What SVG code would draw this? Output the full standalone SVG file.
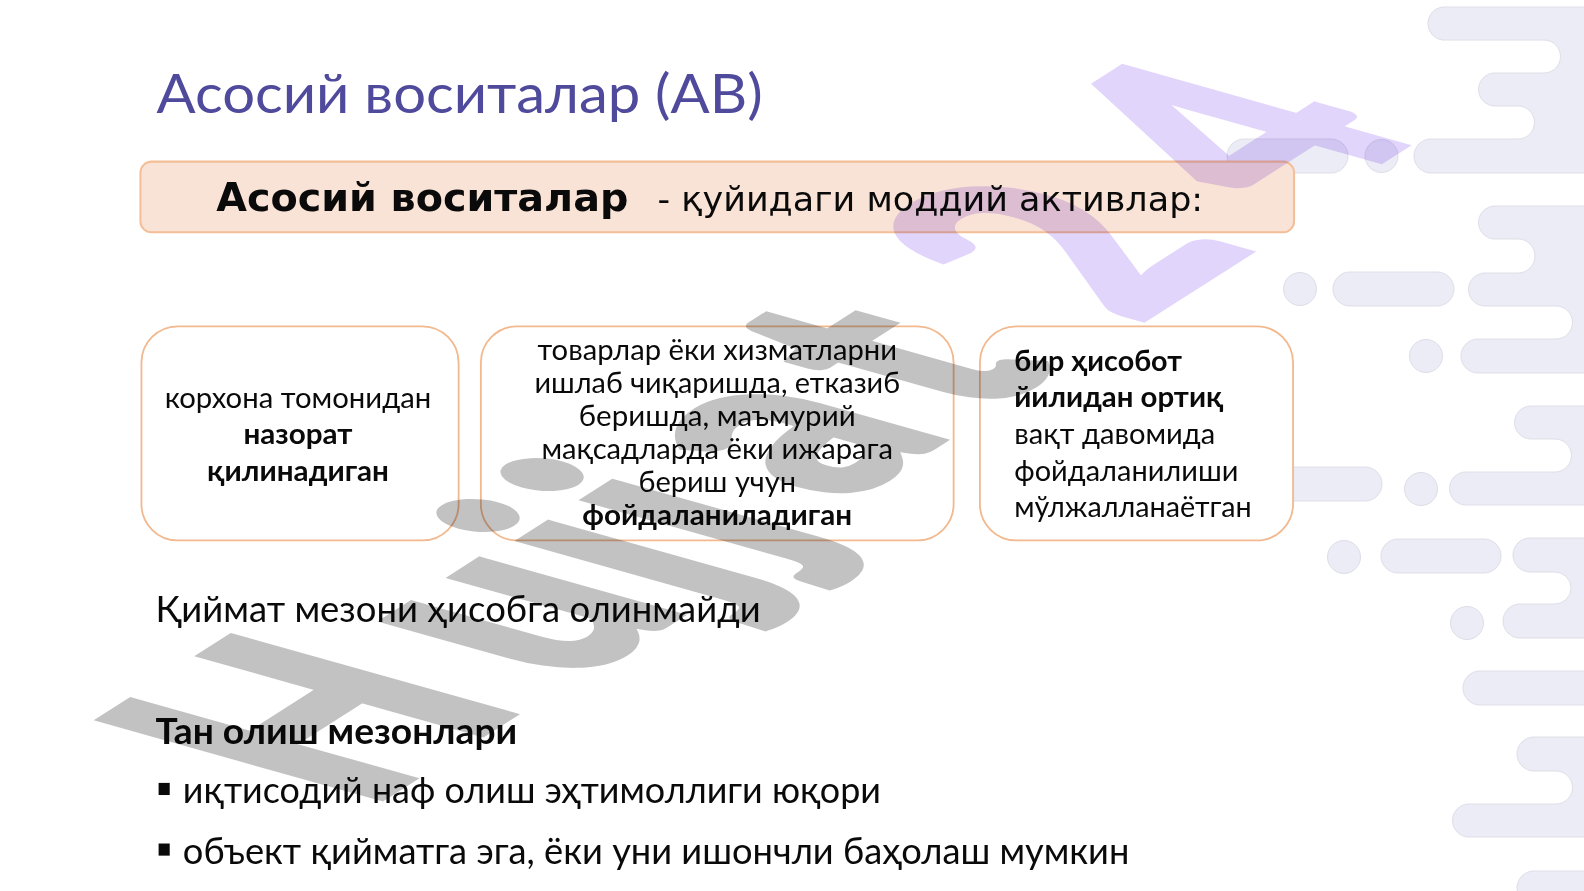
<svg xmlns="http://www.w3.org/2000/svg" width="1584" height="891" viewBox="0 0 1584 891">
<style>
.deco{fill:#ECECF6;stroke:#DEDEE8;stroke-width:1}
.t{font-family:"Lato","Open Sans","Noto Sans",sans-serif;fill:#0a0a0a}
.c{text-anchor:middle}
.b{font-weight:700}
.s28{font-size:28px}
.s36{font-size:36px}
.bar{font-family:"DejaVu Sans",sans-serif;fill:#0a0a0a}
.box{fill:#fff;stroke:#F2B98F;stroke-width:1.8}
.wm{font-family:"Lato","Open Sans",sans-serif;font-weight:900;font-size:100px;mix-blend-mode:multiply;stroke-width:2;stroke-linejoin:miter}
</style>
<rect width="1584" height="891" fill="#fff"/>
<g id="decoration">
<path class="deco" d="M1585 7H1442A16.7 16.7 0 0 0 1442 40H1544A16.5 16.5 0 0 1 1544 73H1495A16.5 16.5 0 0 0 1495 106H1518A16.5 16.5 0 0 1 1518 139H1431A17 17 0 0 0 1431 173H1585Z"/>
<path class="deco" d="M1585 206H1495A16.5 16.5 0 0 0 1495 239H1518A17 17 0 0 1 1518 273H1485A16.5 16.5 0 0 0 1485 306H1556A16.5 16.5 0 0 1 1556 339H1478A17 17 0 0 0 1478 373H1585Z"/>
<path class="deco" d="M1585 406H1531A16.5 16.5 0 0 0 1531 439H1555A16.5 16.5 0 0 1 1555 472H1466A16.5 16.5 0 0 0 1466 505H1585Z"/>
<path class="deco" d="M1585 538H1530A17 17 0 0 0 1530 572H1555A16 16 0 0 1 1555 604H1520A17 17 0 0 0 1520 638H1585Z"/>
<path class="deco" d="M1585 671H1480A17 17 0 0 0 1480 705H1585Z"/>
<path class="deco" d="M1585 737H1534A17 17 0 0 0 1534 771H1556A16.5 16.5 0 0 1 1556 804H1469A16.5 16.5 0 0 0 1469 837H1585Z"/>
<path class="deco" d="M1585 871H1534A17 17 0 0 0 1534 905H1585Z"/>
<rect class="deco" x="1227" y="139" width="121" height="34" rx="17"/>
<circle class="deco" cx="1381.5" cy="156" r="16.5"/>
<circle class="deco" cx="1300" cy="289" r="16.5"/>
<rect class="deco" x="1333" y="272" width="121" height="34" rx="17"/>
<circle class="deco" cx="1426" cy="356" r="16.5"/>
<rect class="deco" x="1262" y="467" width="120" height="34" rx="17"/>
<circle class="deco" cx="1421" cy="489" r="16.5"/>
<circle class="deco" cx="1344" cy="557" r="16.5"/>
<rect class="deco" x="1381" y="539" width="120" height="34" rx="17"/>
<circle class="deco" cx="1467" cy="623" r="16.5"/>
</g>
<g transform="scale(1.0102)">
<g id="title"><text class="t" x="155" y="112" font-size="54" textLength="600" lengthAdjust="spacingAndGlyphs" style="fill:#4F4A9C">Асосий воситалар (АВ)</text></g>
<g id="definition-bar">
<rect x="139" y="160" width="1142" height="70" rx="11" fill="#F9E3D6" stroke="#F4BE98" stroke-width="2"/>
<text class="bar b" x="214" y="209" font-size="38" textLength="408" lengthAdjust="spacingAndGlyphs">Асосий воситалар</text>
<text class="bar" x="651" y="209" font-size="33" textLength="540" lengthAdjust="spacingAndGlyphs">- қуйидаги моддий активлар:</text>
</g>
<g id="box-controlled">
<rect class="box" x="140" y="323" width="314" height="212" rx="36"/>
<text class="t s28 c" x="295" y="404" textLength="264" lengthAdjust="spacingAndGlyphs">корхона томонидан</text>
<text class="t s28 c b" x="295" y="440" textLength="108" lengthAdjust="spacingAndGlyphs">назорат</text>
<text class="t s28 c b" x="295" y="476" textLength="180" lengthAdjust="spacingAndGlyphs">қилинадиган</text>
</g>
<g id="box-use">
<rect class="box" x="476" y="323" width="468" height="212" rx="36"/>
<text class="t s28 c" x="710" y="356" textLength="356" lengthAdjust="spacingAndGlyphs">товарлар ёки хизматларни</text>
<text class="t s28 c" x="710" y="389" textLength="362" lengthAdjust="spacingAndGlyphs">ишлаб чиқаришда, етказиб</text>
<text class="t s28 c" x="710" y="422" textLength="274" lengthAdjust="spacingAndGlyphs">беришда, маъмурий</text>
<text class="t s28 c" x="710" y="454" textLength="348" lengthAdjust="spacingAndGlyphs">мақсадларда ёки ижарага</text>
<text class="t s28 c" x="710" y="487" textLength="156" lengthAdjust="spacingAndGlyphs">бериш учун</text>
<text class="t s28 c b" x="710" y="520" textLength="267" lengthAdjust="spacingAndGlyphs">фойдаланиладиган</text>
</g>
<g id="box-period">
<rect class="box" x="970" y="323" width="310" height="212" rx="36"/>
<text class="t s28 b" x="1004" y="367" textLength="166" lengthAdjust="spacingAndGlyphs">бир ҳисобот</text>
<text class="t s28 b" x="1004" y="403" textLength="207" lengthAdjust="spacingAndGlyphs">йилидан ортиқ</text>
<text class="t s28" x="1004" y="440" textLength="199" lengthAdjust="spacingAndGlyphs">вақт давомида</text>
<text class="t s28" x="1004" y="476" textLength="222" lengthAdjust="spacingAndGlyphs">фойдаланилиши</text>
<text class="t s28" x="1004" y="512" textLength="235" lengthAdjust="spacingAndGlyphs">мўлжалланаётган</text>
</g>
<g id="fair-value"><text class="t s36" x="154" y="616" textLength="599" lengthAdjust="spacingAndGlyphs">Қиймат мезони ҳисобга олинмайди</text></g>
<g id="recognition">
<text class="t s36 b" x="154" y="736" textLength="358" lengthAdjust="spacingAndGlyphs">Тан олиш мезонлари</text>
<rect x="157" y="775" width="11" height="12" fill="#0a0a0a"/>
<text class="t s36" x="181" y="795" textLength="691" lengthAdjust="spacingAndGlyphs">иқтисодий наф олиш эҳтимоллиги юқори</text>
<rect x="157" y="835" width="11" height="12" fill="#0a0a0a"/>
<text class="t s36" x="181" y="855" textLength="937" lengthAdjust="spacingAndGlyphs">объект қийматга эга, ёки уни ишончли баҳолаш мумкин</text>
</g>
</g>
<g id="watermark" transform="matrix(2.136 -1.363 3.88 1.09 365 809.5)">
<text class="wm" y="0" dx="0 17 3 4 16 12" dy="0 2 2 0 -4 0" fill="#C2C2C2" stroke="#C2C2C2">Hujjat</text>
<text class="wm" x="357" y="2" dx="0 25" dy="0 -2" fill="#E2D5FB" stroke="#E2D5FB">24</text>
</g>
</svg>
